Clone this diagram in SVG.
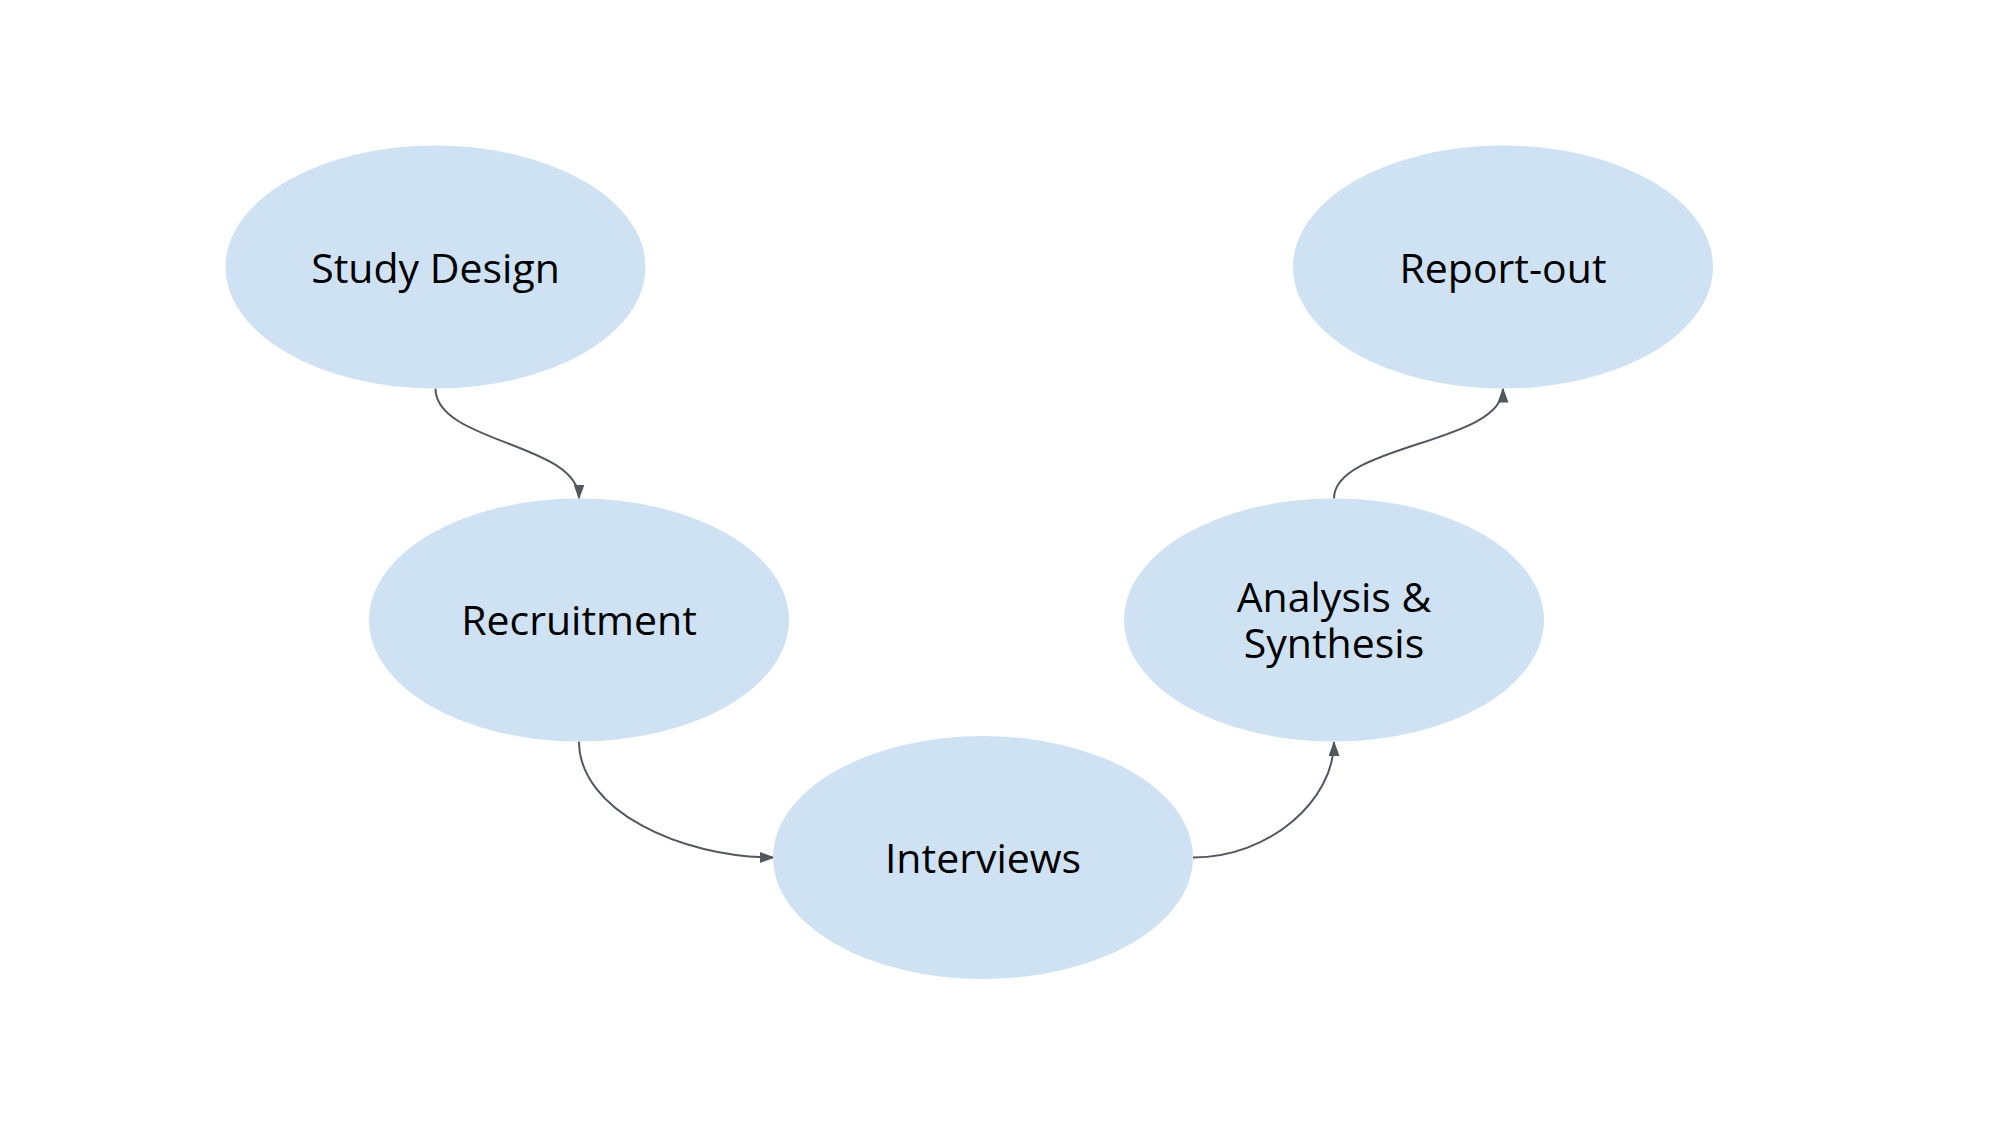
<svg xmlns="http://www.w3.org/2000/svg" width="2000" height="1125" viewBox="0 0 2000 1125">
<defs>
<style>
.node{fill:#cfe2f3;stroke:none}
.lbl{font-family:"Open Sans","Noto Sans",sans-serif;font-size:41px;fill:#000;text-anchor:middle}
.edge{fill:none;stroke:#53585e;stroke-width:2}
</style>
<marker id="arr" viewBox="0 0 15 11" refX="14" refY="5.5" markerWidth="15" markerHeight="11" markerUnits="userSpaceOnUse" orient="auto">
<path d="M0,0 L15,5.5 L0,11 Z" fill="#53585e"/>
</marker>
</defs>
<rect width="2000" height="1125" fill="#fff"/>
<g id="connectors">
<path class="edge" d="M435.5,388.5 C435.5,443 579,443 579,498.5" marker-end="url(#arr)"/>
<path class="edge" d="M579,741.5 C579,810 680,857.5 774,857.5" marker-end="url(#arr)"/>
<path class="edge" d="M1193,857.5 C1270,857.5 1334,800 1334,742" marker-end="url(#arr)"/>
<path class="edge" d="M1334,498.5 C1334,444 1503,444 1503,388.5" marker-end="url(#arr)"/>
</g>
<g id="study-design">
<ellipse class="node" cx="435.5" cy="267" rx="210" ry="121.5"/>
<text class="lbl" x="435.5" y="282.5">Study Design</text>
</g>
<g id="recruitment">
<ellipse class="node" cx="579" cy="620" rx="210" ry="121.5"/>
<text class="lbl" x="579" y="635">Recruitment</text>
</g>
<g id="interviews">
<ellipse class="node" cx="983" cy="857.5" rx="210" ry="121.5"/>
<text class="lbl" x="983" y="872.5">Interviews</text>
</g>
<g id="analysis-synthesis">
<ellipse class="node" cx="1334" cy="620" rx="210" ry="121.5"/>
<text class="lbl" x="1334" y="611.7"><tspan x="1334" y="611.7">Analysis &amp;</tspan><tspan x="1334" y="658.3">Synthesis</tspan></text>
</g>
<g id="report-out">
<ellipse class="node" cx="1503" cy="267" rx="210" ry="121.5"/>
<text class="lbl" x="1503" y="282.5">Report-out</text>
</g>
</svg>
